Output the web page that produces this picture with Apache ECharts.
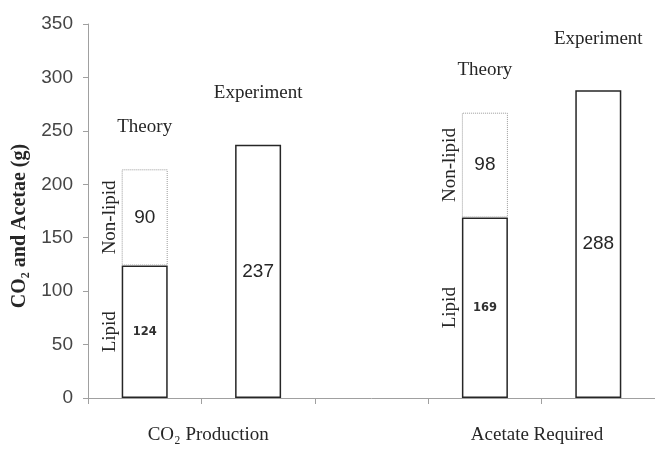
<!DOCTYPE html>
<html><head><meta charset="utf-8">
<script src="https://cdn.jsdelivr.net/npm/echarts@6/dist/echarts.min.js"></script>
<style>html,body{margin:0;padding:0;background:#fff}#c{width:655px;height:449px}</style>
</head><body><div id="c"></div>
<script>
const categories = ['CO2 Theory', 'CO2 Experiment', 'gap', 'Acetate Theory', 'Acetate Experiment'];
const lipid = [124, '-', '-', 169, '-'];
const nonLipid = [90, '-', '-', 98, '-'];
const experiment = ['-', 237, '-', '-', 288];
const topNames = ['Theory', 'Experiment', '', 'Theory', 'Experiment'];
const groupLabels = ['CO₂ Production', 'Acetate Required'];
const yMin = 0, yMax = 350, yStep = 50;

const serif = 'Liberation Serif';
const sans = 'Liberation Sans';
const txt = '#262626';

const totals = categories.map((_, i) =>
  lipid[i] !== '-' ? lipid[i] + nonLipid[i] : experiment[i]);

const solid = { color: '#fff', borderColor: '#262626', borderWidth: 1.5 };
const clear = { color: 'rgba(0,0,0,0)', borderWidth: 0 };
const sideLabel = (text) => ({
  show: true, position: 'left', rotate: 90, align: 'center', verticalAlign: 'bottom',
  distance: 2, formatter: text, fontFamily: serif, fontSize: 19, color: txt
});

const chart = echarts.init(document.getElementById('c'));
chart.setOption({
  animation: false,
  grid: { left: 88, right: -3, top: 24, bottom: 51 },
  xAxis: [{
    type: 'category', data: categories,
    axisLine: { lineStyle: { color: '#a0a0a0', width: 1 } },
    axisTick: { show: true, interval: 0, length: 6, lineStyle: { color: '#a0a0a0' } },
    axisLabel: { show: false, interval: 0 }
  }, {
    type: 'value', position: 'bottom', min: 0, max: 5,
    axisLine: { show: false }, axisTick: { show: false }, splitLine: { show: false },
    axisLabel: {
      customValues: [1.06, 3.96], margin: 28,
      formatter: v => v < 2.5 ? groupLabels[0] : groupLabels[1],
      fontFamily: serif, fontSize: 19, color: txt
    }
  }],
  yAxis: {
    type: 'value', min: yMin, max: yMax, interval: yStep,
    name: 'CO₂ and Acetae (g)', nameLocation: 'middle', nameGap: 58,
    nameTextStyle: { fontFamily: serif, fontWeight: 'bold', fontSize: 20, color: txt,
      padding: [0, 30, 0, 0], letterSpacing: 0.6 },
    axisLine: { show: true, lineStyle: { color: '#a0a0a0', width: 1 } },
    axisTick: { show: true, length: 5, lineStyle: { color: '#a0a0a0' } },
    splitLine: { show: false },
    axisLabel: { margin: 15, fontFamily: sans, fontSize: 19, color: '#454545' }
  },
  series: [{
    name: 'Lipid', type: 'bar', stack: 'main', barWidth: 46, barGap: '-100%',
    data: lipid, itemStyle: solid,
    label: { show: true, position: 'inside', fontFamily: 'DejaVu Sans', fontWeight: 'bold', fontSize: 11.5, color: '#303030' }
  }, {
    name: 'Non-lipid', type: 'bar', stack: 'main', barWidth: 46, barGap: '-100%',
    data: nonLipid,
    itemStyle: { color: '#fff', borderColor: '#9a9a9a', borderWidth: 1, borderType: 'dotted' },
    label: { show: true, position: 'inside', fontFamily: sans, fontSize: 19, color: txt }
  }, {
    name: 'Experiment', type: 'bar', stack: 'main', barWidth: 46, barGap: '-100%',
    data: experiment, itemStyle: solid,
    label: { show: true, position: 'inside', fontFamily: sans, fontSize: 19, color: txt }
  }, {
    name: 'LipidTag', type: 'bar', stack: 'tag', barWidth: 46, barGap: '-100%',
    data: lipid, itemStyle: clear, silent: true, label: sideLabel('Lipid')
  }, {
    name: 'NonLipidTag', type: 'bar', stack: 'tag', barWidth: 46, barGap: '-100%',
    data: nonLipid, itemStyle: clear, silent: true, label: sideLabel('Non-lipid')
  }, {
    name: 'TopTag', type: 'bar', stack: 'top', barWidth: 46, barGap: '-100%',
    data: totals.map((v, i) => ({
      value: v,
      label: { distance: topNames[i] === 'Theory' ? 33 : 42 }
    })),
    itemStyle: clear, silent: true,
    label: {
      show: true, position: 'top', fontFamily: serif, fontSize: 19, color: txt,
      formatter: p => topNames[p.dataIndex]
    }
  }]
});
</script>
</body></html>
